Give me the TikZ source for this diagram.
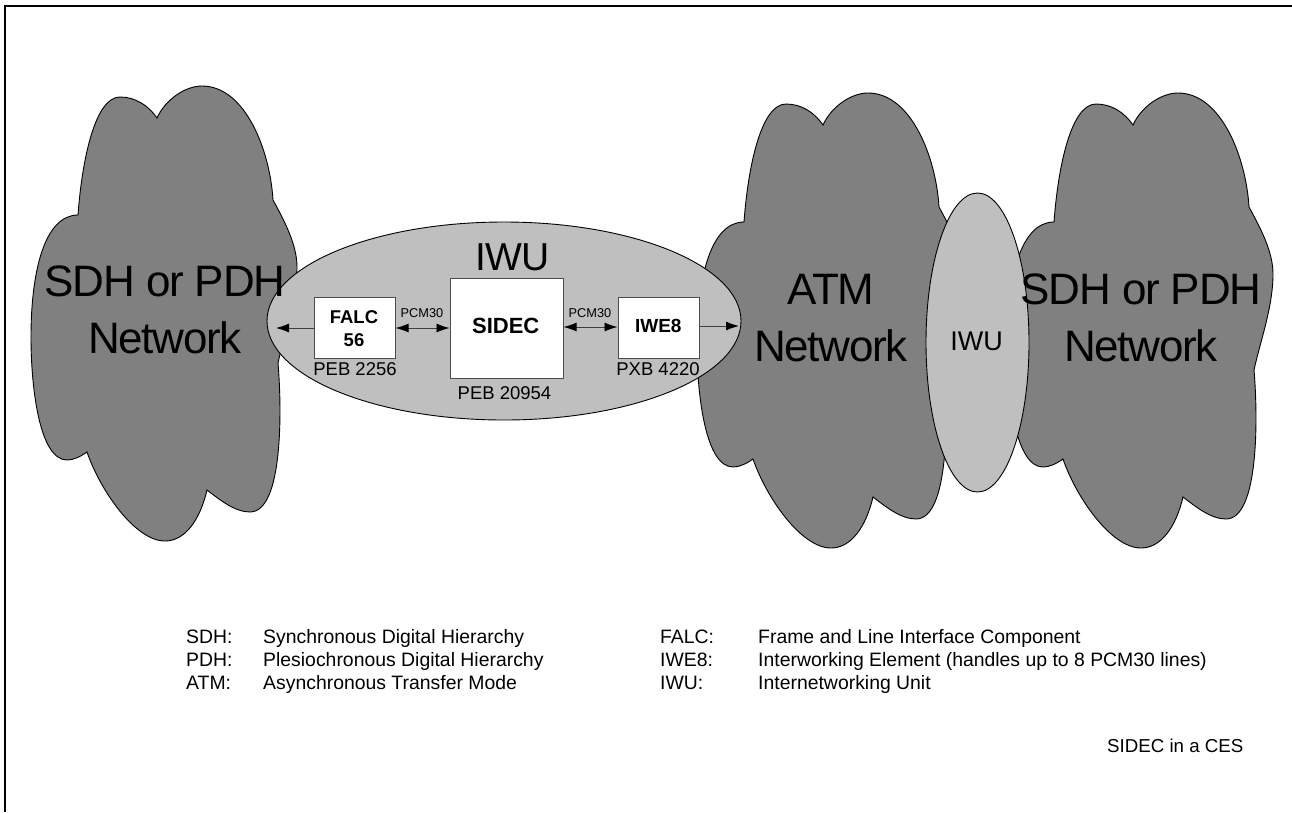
\documentclass[tikz,border=0pt]{standalone}
\usepackage{fontspec}
\usetikzlibrary{arrows.meta,shapes.geometric}
\setmainfont{Liberation Sans}
\newfontfamily\tightfont[LetterSpace=-2.8]{Liberation Sans}
\newcommand{\cloudshape}[2]{%
\begin{scope}[shift={(#1,#2)}]
\draw[cloudline] (157,118) .. controls (165,100) and (185,86) .. (202,86)
 .. controls (245,86) and (270,150) .. (273,200)
 .. controls (285,222) and (297,245) .. (297,267)
 .. controls (297,300) and (284,335) .. (278,363)
 .. controls (282,410) and (283,512) .. (250,512)
 .. controls (235,512) and (220,500) .. (207,490)
 .. controls (200,520) and (185,541) .. (165,541)
 .. controls (135,541) and (100,490) .. (87,452)
 .. controls (80,457) and (73,460) .. (67,460)
 .. controls (40,460) and (31,390) .. (31,337)
 .. controls (31,270) and (45,215) .. (78,215)
 .. controls (82,160) and (95,97) .. (120,97)
 .. controls (135,97) and (148,105) .. (157,118) -- cycle;
\end{scope}}
\definecolor{cloudgray}{gray}{0.5}
\definecolor{ovalgray}{gray}{0.75}
\definecolor{chipline}{gray}{0.3}
\tikzset{
 cloudline/.style={draw=black,line width=0.9pt,fill=cloudgray},
 oval/.style={ellipse,draw=black,line width=0.9pt,fill=ovalgray,inner sep=0pt},
 chip/.style={draw=chipline,line width=1pt,fill=white,inner sep=0pt},
 link/.style={draw=black!75,line width=0.9pt,{Latex[length=13pt,width=9pt,color=black]}-{Latex[length=13pt,width=9pt,color=black]}},
 linkout/.style={draw=black!75,line width=0.9pt,-{Latex[length=13pt,width=9pt,color=black]}},
 nettext/.style={font=\tightfont\fontsize{44}{57}\selectfont,align=center,text=black},
 part/.style={font=\fontsize{18.5}{22}\selectfont},
 chiptext/.style={font=\bfseries\fontsize{18.5}{23}\selectfont,align=center},
 pcm/.style={font=\fontsize{12.8}{15}\selectfont},
 leg/.style={font=\fontsize{19.4}{22}\selectfont,anchor=base west,inner sep=0pt},
}
\begin{document}
\begin{tikzpicture}[x=1pt,y=-1pt]
\useasboundingbox (0,0) rectangle (1292,812);
\coordinate (fa) at (5,812);
\coordinate (fb) at (5,6);
\coordinate (fc) at (1292,6);
\draw[black,line width=2pt] (fa) -- (fb) -- (fc);
\cloudshape{0}{0}
\cloudshape{666}{7}
\cloudshape{976}{7}
\node[oval,minimum width=474pt,minimum height=198pt] (bigoval) at (504,321) {};
\node[oval,minimum width=103pt,minimum height=299pt] (smalloval) at (977.5,342.5) {};
\node[nettext] (n1) at (165,310) {SDH or PDH\\Network};
\node[nettext] (n2) at (831,318) {ATM\\Network};
\node[nettext] (n3) at (1141,318) {SDH or PDH\\Network};
\node[font=\fontsize{27}{30}\selectfont] (iw2) at (976.5,341.7) {IWU};
\node[font=\tightfont\fontsize{39}{44}\selectfont] (iw1) at (512.5,257.5) {IWU};
\node[chip,minimum width=81pt,minimum height=61pt] (falc) at (354.5,327.5) {};
\node[chip,minimum width=113pt,minimum height=100pt] (sidec) at (506.5,328) {};
\node[chip,minimum width=81pt,minimum height=61pt] (iwe) at (658.5,327.5) {};
\node[chiptext] (t1) at (354,328.5) {FALC\\56};
\node[chiptext,font=\bfseries\fontsize{22}{24}\selectfont] (t2) at (505.7,326) {SIDEC};
\node[chiptext,font=\bfseries\fontsize{19}{23}\selectfont] (t3) at (658.3,326) {IWE8};
\node[part] (p1) at (355,369) {PEB 2256};
\node[part] (p2) at (504.5,393) {PEB 20954};
\node[part] (p3) at (658,369) {PXB 4220};
\node[pcm] (c1) at (422,313) {PCM30};
\node[pcm] (c2) at (590,313) {PCM30};
\coordinate (le) at (276,328);
\coordinate (re) at (739,326);
\coordinate (mid) at (0,327);
\draw[linkout] (falc.west |- le) -- (le);
\draw[link] (falc.east |- le) -- (sidec.west |- le);
\draw[link] (sidec.east |- mid) -- (iwe.west |- mid);
\draw[linkout] (iwe.east |- re) -- (re);
\node[leg] (a1) at (186,643) {SDH:};
\node[leg] (a2) at (263,643) {Synchronous Digital Hierarchy};
\node[leg] (a3) at (186,666) {PDH:};
\node[leg] (a4) at (263,666) {Plesiochronous Digital Hierarchy};
\node[leg] (a5) at (186,689) {ATM:};
\node[leg] (a6) at (263,689) {Asynchronous Transfer Mode};
\node[leg] (b1) at (660,643) {FALC:};
\node[leg] (b2) at (758,643) {Frame and Line Interface Component};
\node[leg] (b3) at (660,666) {IWE8:};
\node[leg] (b4) at (758,666) {Interworking Element (handles up to 8 PCM30 lines)};
\node[leg] (b5) at (660,689) {IWU:};
\node[leg] (b6) at (758,689) {Internetworking Unit};
\node[leg,font=\fontsize{18.7}{22}\selectfont] (cap) at (1107,752) {SIDEC in a CES};
\end{tikzpicture}
\end{document}
